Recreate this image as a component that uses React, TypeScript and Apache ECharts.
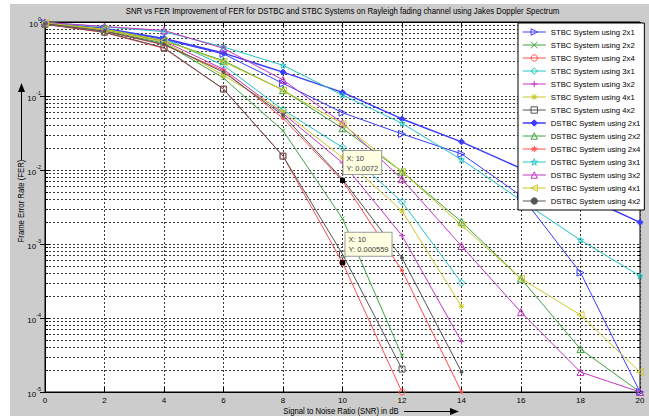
import React, { useEffect, useRef } from 'react';
import * as echarts from 'echarts';

// ---------- data ----------
const snr = [0, 2, 4, 6, 8, 10, 12, 14, 16, 18, 20];

const stbc2x1 = [0.97, 0.8, 0.58, 0.37, 0.148, 0.0595, 0.0307, 0.0165, 0.0045, 0.00041, 0.00001];
const stbc2x2 = [0.95, 0.76, 0.52, 0.175, 0.034, 0.0022, 0.000031];
const stbc2x4 = [0.93, 0.72, 0.44, 0.124, 0.0154, 0.000559, 0.00001];
const stbc3x1 = [0.97, 0.82, 0.6, 0.26, 0.065, 0.0202, 0.0037, 0.0003];
const stbc3x2 = [0.96, 0.79, 0.55, 0.23, 0.058, 0.0125, 0.0013, 0.000048];
const stbc4x1 = [0.96, 0.78, 0.54, 0.19, 0.062, 0.0148, 0.0028, 0.000144];
const stbc4x2 = [0.93, 0.73, 0.45, 0.124, 0.0154, 0.00073, 0.0000204];
const dstbc2x1 = [0.98, 0.82, 0.6, 0.38, 0.21, 0.112, 0.049, 0.024, 0.0105, 0.0046, 0.00196];
const dstbc2x2 = [0.97, 0.8, 0.56, 0.3, 0.12, 0.0366, 0.0095, 0.002, 0.00034, 0.000038, 0.00001];
const dstbc2x4 = [0.95, 0.75, 0.49, 0.22, 0.05, 0.0072, 0.00044, 0.00001];
const dstbc3x1 = [0.99, 0.86, 0.74, 0.46, 0.26, 0.103, 0.0428, 0.0138, 0.0039, 0.00113, 0.00037];
const dstbc3x2 = [0.99, 0.87, 0.77, 0.44, 0.165, 0.043, 0.0075, 0.00094, 0.00012, 0.0000186, 0.00001];
const dstbc4x1 = [0.97, 0.8, 0.56, 0.29, 0.12, 0.042, 0.0095, 0.0018, 0.00034, 0.00011, 0.0000186];
const dstbc4x2 = [0.95, 0.75, 0.5, 0.21, 0.055, 0.0075, 0.00065, 0.0000187];

const tipSnr = [10, 10];
const tipFer = [0.0072, 0.000559];

const decadeExponents = [-5, -4, -3, -2, -1];
const minorMultipliers = [2, 3, 4, 5, 6, 7, 8, 9];

const titleText =
  'SNR vs FER Improvement of FER for DSTBC and STBC Systems on Rayleigh fading channel using Jakes Doppler Spectrum';
const xName = 'Signal to Noise Ratio (SNR) in dB';
const yName = 'Frame Error Rate (FER)';

// ---------- styles ----------
const FONT = '"Liberation Sans", Arial, Helvetica, sans-serif';
const BLUE = '#3c3cff';
const GREEN = '#3fa33f';
const RED = '#ff4d4d';
const CYAN = '#22c4c4';
const MAGENTA = '#c436c4';
const YELLOW = '#c8c828';
const GRAY = '#555555';

const PLUS = 'path://M5,0L5,10M0,5L10,5';
const CROSS = 'path://M0,0L10,10M10,0L0,10';
const STAR = 'path://M5,0L5,10M0,5L10,5M1.5,1.5L8.5,8.5M8.5,1.5L1.5,8.5';
const PENTA = 'path://M5,0L6.2,3.6L10,3.6L6.9,5.9L8.1,9.5L5,7.3L1.9,9.5L3.1,5.9L0,3.6L3.8,3.6Z';

type Spec = {
  name: string;
  values: number[];
  color: string;
  symbol: string;
  size: number;
  rotate?: number;
  filled?: boolean;
  width?: number;
};

const specs: Spec[] = [
  { name: 'STBC System using 2x1', values: stbc2x1, color: BLUE, symbol: 'triangle', size: 7, rotate: -90 },
  { name: 'STBC System using 2x2', values: stbc2x2, color: GREEN, symbol: CROSS, size: 4 },
  { name: 'STBC System using 2x4', values: stbc2x4, color: RED, symbol: 'circle', size: 6 },
  { name: 'STBC System using 3x1', values: stbc3x1, color: CYAN, symbol: 'diamond', size: 7 },
  { name: 'STBC System using 3x2', values: stbc3x2, color: MAGENTA, symbol: PLUS, size: 6 },
  { name: 'STBC System using 4x1', values: stbc4x1, color: YELLOW, symbol: STAR, size: 6 },
  { name: 'STBC System using 4x2', values: stbc4x2, color: GRAY, symbol: 'rect', size: 6 },
  { name: 'DSTBC System using 2x1', values: dstbc2x1, color: BLUE, symbol: 'diamond', size: 6, filled: true, width: 1.5 },
  { name: 'DSTBC System using 2x2', values: dstbc2x2, color: GREEN, symbol: 'triangle', size: 7 },
  { name: 'DSTBC System using 2x4', values: dstbc2x4, color: RED, symbol: STAR, size: 4 },
  { name: 'DSTBC System using 3x1', values: dstbc3x1, color: CYAN, symbol: PENTA, size: 6 },
  { name: 'DSTBC System using 3x2', values: dstbc3x2, color: MAGENTA, symbol: 'triangle', size: 7 },
  { name: 'DSTBC System using 4x1', values: dstbc4x1, color: YELLOW, symbol: 'triangle', size: 7, rotate: 90 },
  { name: 'DSTBC System using 4x2', values: dstbc4x2, color: GRAY, symbol: 'circle', size: 3, filled: true },
];

const tipLabelStyle = {
  show: true,
  position: [0, 0] as any,
  align: 'left',
  verticalAlign: 'top',
  backgroundColor: '#ffffe1',
  borderColor: '#9a9a9a',
  borderWidth: 1,
  padding: [2, 3, 1, 3],
  fontSize: 7.5,
  lineHeight: 10,
  color: '#404040',
  fontFamily: FONT,
};

export default function App() {
  const ref = useRef<HTMLDivElement>(null);

  useEffect(() => {
    if (!ref.current) return;
    const chart = echarts.init(ref.current, undefined, { renderer: 'svg' });

    const minorValues: number[][] = [];
    decadeExponents.forEach((e) =>
      minorMultipliers.forEach((m) => minorValues.push([0, m * Math.pow(10, e)]))
    );

    const lineSeries: any[] = specs.map((s) => {
      const data = s.values.map((v, k) => [snr[k], v]);
      return {
        type: 'line',
        name: s.name,
        data,
        symbol: s.symbol,
        symbolSize: s.size,
        symbolRotate: s.rotate || 0,
        showAllSymbol: true,
        lineStyle: { color: s.color, width: s.width || 1 },
        itemStyle: {
          color: s.filled ? s.color : 'transparent',
          borderColor: s.color,
          borderWidth: 1,
        },
        emphasis: { disabled: true },
        z: 3,
      };
    });

    // data tips
    const tipTargets = ['DSTBC System using 2x4', 'STBC System using 2x4'];
    const tipOffsets = [
      [3.5, -27],
      [5.5, -27.5],
    ];
    tipTargets.forEach((name, t) => {
      const ser = lineSeries.find((s) => s.name === name);
      ser.markPoint = {
        symbol: 'rect',
        symbolSize: 5,
        itemStyle: { color: '#000', borderWidth: 0 },
        silent: true,
        z: 10,
        data: [
          {
            coord: [tipSnr[t], tipFer[t]],
            label: {
              ...tipLabelStyle,
              position: tipOffsets[t],
              formatter: () => `X: ${tipSnr[t]}\nY: ${tipFer[t]}`,
            },
          },
        ],
      };
    });

    const minorSeries = {
      type: 'custom',
      name: 'minor',
      silent: true,
      z: 1,
      xAxisIndex: 0,
      yAxisIndex: 0,
      data: minorValues,
      encode: { x: 0, y: 1 },
      renderItem: (_p: any, api: any) => {
        const v = api.value(1);
        const a = api.coord([0, v]);
        const b = api.coord([20, v]);
        const y = Math.round(a[1]) + 0.5;
        return {
          type: 'group',
          children: [
            {
              type: 'line',
              shape: { x1: a[0], y1: y, x2: b[0], y2: y },
              style: { stroke: '#3a3a3a', lineWidth: 1, lineDash: [2, 2] },
            },
            {
              type: 'line',
              shape: { x1: a[0], y1: y, x2: a[0] + 3, y2: y },
              style: { stroke: '#000', lineWidth: 1 },
            },
            {
              type: 'line',
              shape: { x1: b[0] - 3, y1: y, x2: b[0], y2: y },
              style: { stroke: '#000', lineWidth: 1 },
            },
          ],
        };
      },
    };

    const expLabel = (v: number) => {
      const e = Math.round(Math.log10(v));
      return `{b|10}{s|${e}}`;
    };

    const xAxisBase = {
      type: 'value',
      min: 0,
      max: 20,
      interval: 2,
      axisLine: { show: true, lineStyle: { color: '#000', width: 1 } },
      axisTick: { show: true, inside: true, length: 5, lineStyle: { color: '#000' } },
    };
    const yAxisBase = {
      type: 'log',
      logBase: 10,
      min: 0.00001,
      max: 1,
      interval: 1,
      axisLine: { show: true, lineStyle: { color: '#000', width: 1 } },
      axisTick: { show: true, inside: true, length: 5, lineStyle: { color: '#000' } },
    };

    chart.setOption({
      animation: false,
      backgroundColor: 'transparent',
      textStyle: { fontFamily: FONT },
      grid: {
        left: 45,
        top: 22,
        width: 595,
        height: 370,
        show: true,
        backgroundColor: '#ffffff',
        borderColor: '#000',
        borderWidth: 1,
      },
      xAxis: [
        {
          ...xAxisBase,
          position: 'bottom',
          axisLabel: { color: '#000', fontSize: 8, margin: 4, fontFamily: FONT },
          splitLine: { show: true, lineStyle: { color: '#3a3a3a', type: [2, 2], width: 1 } },
        },
        {
          ...xAxisBase,
          position: 'top',
          axisLabel: { show: false },
          splitLine: { show: false },
        },
      ],
      yAxis: [
        {
          ...yAxisBase,
          position: 'left',
          axisLabel: {
            color: '#000',
            margin: 4,
            formatter: expLabel,
            rich: {
              b: { fontSize: 8, lineHeight: 12, verticalAlign: 'bottom', fontFamily: FONT, color: '#000' },
              s: { fontSize: 5.5, lineHeight: 12, verticalAlign: 'top', fontFamily: FONT, color: '#000' },
            },
          },
          splitLine: { show: true, lineStyle: { color: '#3a3a3a', type: [2, 2], width: 1 } },
        },
        {
          ...yAxisBase,
          position: 'right',
          axisLabel: { show: false },
          splitLine: { show: false },
        },
      ],
      legend: {
        data: specs.map((s) => ({
          name: s.name,
          itemStyle: {
            color: s.filled ? s.color : 'transparent',
            borderColor: s.color,
            borderWidth: 1,
          },
          lineStyle: { color: s.color, width: s.width || 1 },
        })),
        orient: 'vertical',
        left: 518,
        top: 23,
        padding: [5, 4, 5, 4],
        itemWidth: 23,
        itemHeight: 8,
        itemGap: 5,
        itemTextGap: 2,
        backgroundColor: '#ffffff',
        borderColor: '#000',
        borderWidth: 1,
        borderRadius: 0,
        selectedMode: false,
        textStyle: { fontSize: 7.75, lineHeight: 8, color: '#000', fontFamily: FONT },
        z: 20,
      },
      graphic: [
        {
          type: 'text',
          x: 342.5,
          y: 11,
          scaleX: 0.92,
          style: {
            text: titleText,
            fontSize: 8.5,
            fontFamily: FONT,
            fill: '#000',
            textAlign: 'center',
            textVerticalAlign: 'middle',
          },
        },
        {
          type: 'text',
          x: 341,
          y: 411,
          scaleX: 0.91,
          style: {
            text: xName,
            fontSize: 8.5,
            fontFamily: FONT,
            fill: '#000',
            textAlign: 'center',
            textVerticalAlign: 'middle',
          },
        },
        {
          type: 'line',
          shape: { x1: 404, y1: 411.5, x2: 452, y2: 411.5 },
          style: { stroke: '#000', lineWidth: 1 },
        },
        {
          type: 'polygon',
          shape: { points: [[459, 411.5], [450, 408], [450, 415]] },
          style: { fill: '#000' },
        },
        {
          type: 'text',
          x: 21.5,
          y: 201,
          rotation: Math.PI / 2,
          scaleX: 0.91,
          style: {
            text: yName,
            fontSize: 8.5,
            fontFamily: FONT,
            fill: '#000',
            textAlign: 'center',
            textVerticalAlign: 'middle',
          },
        },
        {
          type: 'line',
          shape: { x1: 21.5, y1: 160, x2: 21.5, y2: 90 },
          style: { stroke: '#000', lineWidth: 1 },
        },
        {
          type: 'polygon',
          shape: { points: [[21.5, 83], [18, 92], [25, 92]] },
          style: { fill: '#000' },
        },
      ],
      series: [minorSeries, ...lineSeries],
    });

    return () => chart.dispose();
  }, []);

  return (
    <div style={{ position: 'fixed', left: 0, top: 0, width: 649, height: 416, background: '#ffffff' }}>
      <div style={{ position: 'absolute', left: 10, top: 4, right: 0, bottom: 0, background: '#cccccc' }} />
      <div ref={ref} style={{ position: 'absolute', left: 0, top: 0, width: 649, height: 416 }} />
    </div>
  );
}
